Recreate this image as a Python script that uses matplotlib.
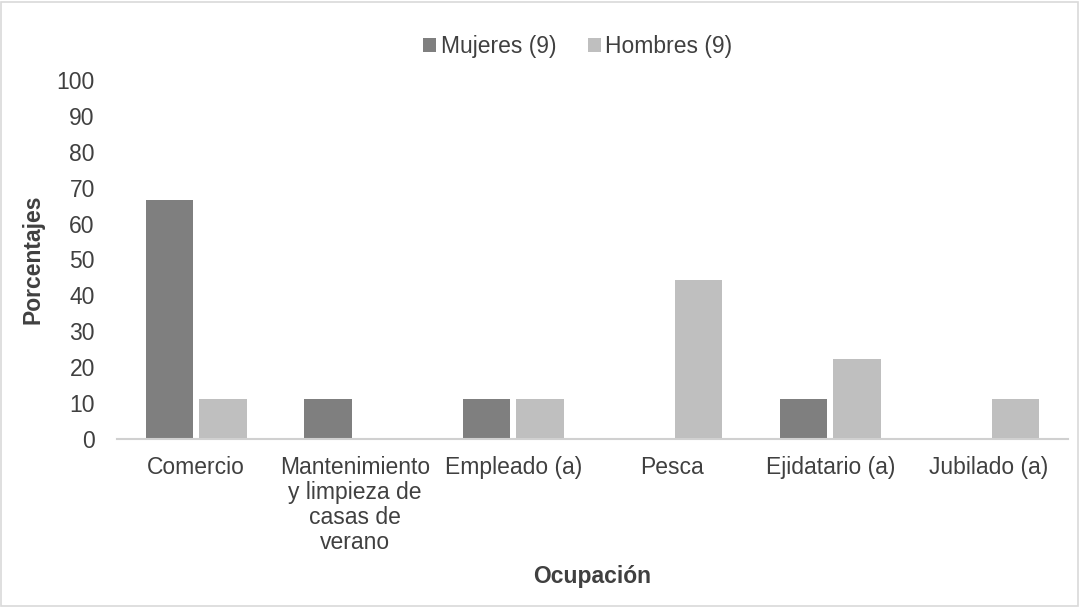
import matplotlib
matplotlib.use("Agg")
import matplotlib.pyplot as plt
import numpy as np
from matplotlib.patches import Rectangle

plt.rcParams['font.family'] = ['Liberation Sans', 'DejaVu Sans']

categories = ["Comercio", "Mantenimiento\ny limpieza de\ncasas de\nverano", "Empleado (a)",
              "Pesca", "Ejidatario (a)", "Jubilado (a)"]
mujeres = [66.7, 11.1, 11.1, 0, 11.1, 0]
hombres = [11.1, 0, 11.1, 44.4, 22.2, 11.1]
series_names = ["Mujeres (9)", "Hombres (9)"]
yticks = list(range(0, 101, 10))

FS = 16.5
fig = plt.figure(figsize=(10.89, 6.07), dpi=100)
ax = fig.add_axes([117/1089, 1-439/607, (1068-117)/1089, (439-80)/607])

x = np.arange(len(categories))
w = 0.3
gap = 0.04
ax.bar(x - (w + gap)/2, mujeres, w, color='#7f7f7f', label=series_names[0])
ax.bar(x + (w + gap)/2, hombres, w, color='#bfbfbf', label=series_names[1])

ax.set_xlim(-0.5, len(categories) - 0.5)
ax.set_ylim(0, 100)
ax.set_yticks(yticks)
ax.set_xticks(x)
ax.set_xticklabels(categories, fontsize=FS, color='#404040', linespacing=1.12)
ax.tick_params(axis='y', labelsize=FS, colors='#404040', length=0, pad=16)
ax.tick_params(axis='x', length=0, pad=12)
for s in ['top', 'right', 'left']:
    ax.spines[s].set_visible(False)
ax.spines['bottom'].set_color('#d0d0d0')
ax.spines['bottom'].set_linewidth(1.5)

ax.set_ylabel("Porcentajes", fontsize=FS, fontweight='bold', color='#404040', labelpad=9)
fig.text(0.5 * (117 + 1068) / 1089, 1 - 577/607, "Ocupación", fontsize=FS,
         fontweight='bold', color='#404040', ha='center', va='center')

leg = ax.legend(loc='center', bbox_to_anchor=(578/1089, 1 - 47/607),
                bbox_transform=fig.transFigure, ncol=2, frameon=False,
                fontsize=FS, handlelength=0.55, handleheight=0.55,
                handletextpad=0.2, columnspacing=1.4)
for t in leg.get_texts():
    t.set_color('#404040')

fig.patches.append(Rectangle((1/1089, 1/607), 1077/1089, 604/607, transform=fig.transFigure,
                             fill=False, edgecolor='#d9d9d9', linewidth=1.2))

fig.savefig("out.png", dpi=100, facecolor='white')
